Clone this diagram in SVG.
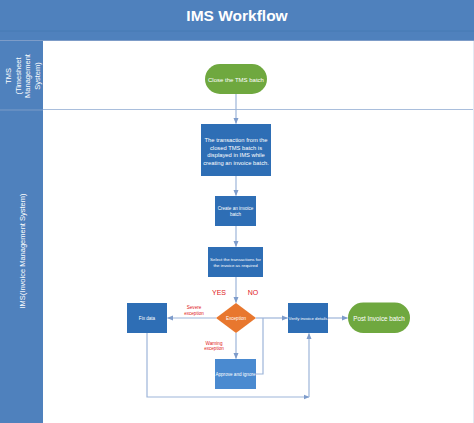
<svg xmlns="http://www.w3.org/2000/svg" width="474" height="423" viewBox="0 0 474 423">
<defs>
<style>
.lane{fill:#4F81BD}
.box{fill:#2E6EB5}
.box2{fill:#4A8AD0}
.term{fill:#6FA83F}
.dec{fill:#E8772E}
.t{font-family:"Liberation Sans",Arial,sans-serif;fill:#fff;text-anchor:middle}
.r{font-family:"Liberation Sans",Arial,sans-serif;fill:#E0201B;text-anchor:middle}
.c{fill:none;stroke:#9DB5D9;stroke-width:1.2}
</style>
<marker id="a" viewBox="0 0 6 6" refX="5.5" refY="3" markerWidth="6" markerHeight="6" orient="auto" markerUnits="userSpaceOnUse">
<path d="M0,0.5 L6,3 L0,5.5 z" fill="#7E9CCB"/>
</marker>
</defs>
<rect width="474" height="423" fill="#fff"/>
<g id="header">
<rect x="0" y="0" width="474" height="41" class="lane"/>
<line x1="0" y1="31" x2="474" y2="31" stroke="#467AB4" stroke-width="1"/>
<line x1="0" y1="40.5" x2="474" y2="40.5" stroke="#7D9CC8" stroke-width="1"/>
<text x="237" y="21" class="t" font-size="15.5" font-weight="bold">IMS Workflow</text>
</g>
<g id="lane-tms">
<rect x="0" y="41" width="43" height="69" class="lane"/>
<line x1="43" y1="109.5" x2="474" y2="109.5" stroke="#A9BEDC" stroke-width="1.2"/>
<text class="t" font-size="7.5" transform="translate(22,76) rotate(-90)"><tspan x="0" y="-11">TMS</tspan><tspan x="0" y="-1.5">(Timesheet</tspan><tspan x="0" y="8">Management</tspan><tspan x="0" y="17.5">System)</tspan></text>
</g>
<g id="lane-ims">
<rect x="0" y="110" width="43" height="313" class="lane"/>
<line x1="0" y1="110" x2="43" y2="110" stroke="#7D9CC8" stroke-width="1"/>
<text class="t" font-size="7.5" transform="translate(24.5,251) rotate(-90)">IMS(Invoice Management System)</text>
</g>
<line x1="473.5" y1="41" x2="473.5" y2="423" stroke="#E3EAF4" stroke-width="1"/>
<g id="connectors">
<line x1="236" y1="94" x2="236" y2="123.5" class="c" marker-end="url(#a)"/>
<line x1="236" y1="176" x2="236" y2="195.5" class="c" marker-end="url(#a)"/>
<line x1="236" y1="226" x2="236" y2="246.5" class="c" marker-end="url(#a)"/>
<line x1="236" y1="277" x2="236" y2="302.5" class="c" marker-end="url(#a)"/>
<line x1="216" y1="318" x2="167.5" y2="318" class="c" marker-end="url(#a)"/>
<line x1="236" y1="333" x2="236" y2="358.5" class="c" marker-end="url(#a)"/>
<line x1="256" y1="318" x2="287.5" y2="318" class="c" marker-end="url(#a)"/>
<polyline points="256,374 263,374 263,318" class="c"/>
<line x1="328" y1="318" x2="347.5" y2="318" class="c" marker-end="url(#a)"/>
<polyline points="147,333 147,397 309,397" class="c" marker-end="url(#a)"/>
<line x1="309" y1="397" x2="309" y2="333.5" class="c" marker-end="url(#a)"/>
</g>
<g id="close-tms">
<rect x="205" y="64" width="62" height="30" rx="15" class="term"/>
<text x="236" y="81.5" class="t" font-size="6">Close the TMS batch</text>
</g>
<g id="transaction">
<rect x="201" y="124" width="70" height="52" class="box"/>
<text class="t" font-size="5.8"><tspan x="236" y="142">The transaction from the</tspan><tspan x="236" y="149.5">closed TMS batch is</tspan><tspan x="236" y="157">displayed in IMS while</tspan><tspan x="236" y="164.5">creating an invoice batch.</tspan></text>
</g>
<g id="create">
<rect x="215" y="196" width="41" height="30" class="box"/>
<text class="t" font-size="4.6"><tspan x="235.5" y="210">Create an invoice</tspan><tspan x="235.5" y="215.5">batch</tspan></text>
</g>
<g id="select">
<rect x="208" y="247" width="55" height="30" class="box"/>
<text class="t" font-size="4.4"><tspan x="235.5" y="261">Select the transactions for</tspan><tspan x="235.5" y="266.5">the invoice as required</tspan></text>
</g>
<g id="exception">
<polygon points="236,303 256,318 236,333 216,318" class="dec"/>
<text x="236" y="320" class="t" font-size="4.6">Exception</text>
</g>
<text x="219" y="295" class="r" font-size="7">YES</text>
<text x="253" y="295" class="r" font-size="7">NO</text>
<text class="r" font-size="4.6"><tspan x="194" y="309">Severe</tspan><tspan x="194" y="314.5">exception</tspan></text>
<text class="r" font-size="4.6"><tspan x="214" y="344.5">Warning</tspan><tspan x="214" y="350">exception</tspan></text>
<g id="fix">
<rect x="127" y="303" width="40" height="30" class="box"/>
<text x="147" y="320" class="t" font-size="4.6">Fix data</text>
</g>
<g id="approve">
<rect x="215" y="359" width="41" height="30" class="box2"/>
<text x="235.5" y="375.5" class="t" font-size="4.6">Approve and ignore</text>
</g>
<g id="verify">
<rect x="288" y="303" width="40" height="30" class="box"/>
<text x="308" y="320" class="t" font-size="4.3">Verify invoice details</text>
</g>
<g id="post">
<rect x="348" y="302.5" width="62" height="30.5" rx="15.25" class="term"/>
<text x="379" y="320.5" class="t" font-size="6.3">Post Invoice batch</text>
</g>
</svg>
